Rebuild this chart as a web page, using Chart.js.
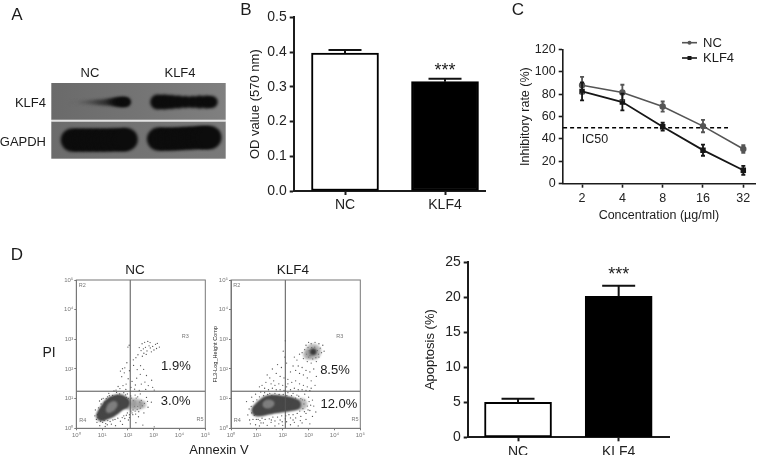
<!DOCTYPE html>
<html><head><meta charset="utf-8">
<script src="https://cdn.jsdelivr.net/npm/chart.js@4"></script>
<style>
html,body{margin:0;padding:0;background:#fff;width:765px;height:455px;overflow:hidden}
canvas{position:absolute}
.t{position:absolute;font-family:"Liberation Sans",Arial,sans-serif;color:#1c1c1c;white-space:nowrap;transform:translate(-50%,-50%);line-height:1;z-index:5;will-change:transform}
.r{transform:translate(-100%,-50%)}
</style></head><body>
<script>
// ---------- data ----------
const categories = ['NC','KLF4'];
const odValues = [0.397,0.315];
const odErrors = [0.009,0.008];
const apoptosisValues = [5.0,20.1];
const apoptosisErrors = [0.5,1.5];
const concentrations = ['2','4','8','16','32'];
const ncInhibition = [88,81.5,69,51.5,31];
const ncInhibitionErr = [7.5,7,4.5,5.5,3.5];
const klf4Inhibition = [82.5,73,51,30,12];
const klf4InhibitionErr = [8,7.5,3.5,5,4];
const ic50Level = 50;
const decadeLabels = ['10⁰','10¹','10²','10³','10⁴','10⁵'];
// flow cytometry: [log10 Annexin V, log10 PI]
const ncEvents = [[2.55,2.85],[2.65,2.9],[2.77,2.93],[2.82,2.78],[2.68,2.73],[2.6,2.68],[2.87,2.71],[2.96,2.76],[3.07,2.83],[3.14,2.86],[3.22,2.74],[3.01,2.64],[2.91,2.58],[2.74,2.61],[2.62,2.53],[2.51,2.62],[2.44,2.72],[3.11,2.69],[2.86,2.89],[2.39,2.48],[2.56,2.43],[2.71,2.49],[2.31,2.38],[2.21,2.31],[2.05,2.8],[2.0,2.74],[1.96,2.21],[1.88,2.04],[1.79,2.01],[1.71,1.93],[1.76,1.74],[1.86,1.87],[2.06,1.94],[2.22,2.12],[2.36,1.98],[2.49,2.11],[2.61,1.99],[2.72,1.78],[2.48,1.82],[2.34,1.69],[2.16,1.58],[2.01,1.67],[1.93,1.49],[1.81,1.44],[1.62,1.41],[1.54,1.29],[1.69,1.34],[2.12,1.38],[2.29,1.46],[2.52,1.49],[2.66,1.56],[2.79,1.44],[2.92,1.62],[2.96,1.38],[2.69,1.31],[2.44,1.28],[2.26,1.32],[1.46,1.26],[1.92,1.31],[3.02,1.29],[0.8,0.2],[0.91,0.09],[1.12,0.06],[0.84,0.36],[2.41,0.39],[2.62,0.52],[2.78,0.71],[2.91,0.88],[2.72,1.04],[2.48,1.16],[2.31,0.19],[2.58,0.11],[3.02,0.05],[1.52,0.09],[1.79,0.13],[2.02,0.28],[2.19,0.46],[0.74,0.62],[0.96,0.82],[1.04,1.01],[1.26,1.18],[1.41,1.11],[1.68,1.16],[1.91,1.13],[2.11,1.09],[2.32,1.02],[2.46,0.88],[2.56,0.76],[2.36,0.64],[2.21,0.93],[2.12,0.58],[1.94,0.44],[1.71,0.24],[1.36,0.14],[1.14,0.16],[0.89,0.51],[0.86,0.69],[1.11,0.88],[1.21,1.06],[1.56,1.21],[2.02,1.01],[2.26,0.74],[2.42,0.56],[2.64,0.84],[2.76,0.91],[1.31,0.23],[1.61,0.34],
 [0.78,0.3],[0.82,0.46],[0.72,0.42],[0.94,0.24],[1.02,0.2],[1.08,0.27],[1.22,0.26],[1.2,0.12],[1.42,0.28],[1.5,0.3],[1.78,0.36],[1.88,0.33],[1.98,0.52],[2.06,0.46],[2.16,0.52],[2.28,0.58],[2.3,0.48],[2.38,0.74],[2.48,0.68],[2.52,0.94],[2.38,1.06],[2.28,1.12],[2.14,1.02],[1.98,1.16],[1.84,1.2],[1.74,1.06],[1.6,1.08],[1.48,1.06],[1.34,1.02],[1.14,0.78],[1.02,0.72],[0.92,0.62],[0.9,0.92],[0.98,0.98],[1.16,1.0],[1.28,1.1],[1.94,1.04],[2.2,0.62],[2.06,0.36],[1.84,0.42]];
const klf4Events = [[3.0,2.9],[2.9,2.8],[3.1,2.85],[3.25,2.9],[3.4,2.85],[3.45,2.7],[3.5,2.55],[3.4,2.4],[3.3,2.25],[3.1,2.2],[2.95,2.25],[2.8,2.35],[2.75,2.55],[2.85,2.65],[3.05,2.45],[3.6,2.6],[3.55,2.8],[2.65,2.5],[2.55,2.3],[2.45,2.4],[2.4,2.1],[2.6,2.1],[2.75,2.05],[2.9,1.95],[3.05,1.9],[3.2,2.0],[3.3,1.75],[3.1,1.6],[2.95,1.7],[2.8,1.8],[2.65,1.85],[2.5,1.95],[2.3,1.9],[2.15,2.2],[2.08,2.4],[2.1,2.95],[2.02,2.6],[1.95,2.05],[1.8,2.15],[1.75,1.85],[1.9,1.75],[2.05,1.7],[2.2,1.65],[2.35,1.55],[2.5,1.6],[2.65,1.5],[2.8,1.45],[2.95,1.4],[3.1,1.35],[3.25,1.45],[1.6,2.0],[1.5,1.7],[1.4,1.8],[1.65,1.6],[1.85,1.5],[2.0,1.45],[2.15,1.4],[2.3,1.3],[2.45,1.35],[2.6,1.3],[1.2,1.45],[1.1,1.4],[1.3,1.35],[1.45,1.3],[1.6,1.35],[1.75,1.3],[1.9,1.3],[2.05,1.28],[2.2,1.5],[1.55,1.5],[1.7,1.45],[1.35,1.55],[2.75,1.3],[2.9,1.28],[3.05,1.27],[0.75,0.15],[0.85,0.3],[0.95,0.12],[1.1,0.08],[1.25,0.18],[1.4,0.1],[1.55,0.2],[1.7,0.08],[1.85,0.15],[2.0,0.1],[2.15,0.22],[2.3,0.12],[2.45,0.2],[2.6,0.08],[2.75,0.18],[2.9,0.3],[3.05,0.15],[0.65,0.45],[0.7,0.65],[0.6,0.9],[0.8,1.05],[0.95,1.15],[1.05,0.3],[2.9,0.5],[3.05,0.6],[3.2,0.75],[3.15,0.95],[3.0,1.05],[2.85,1.15],[2.95,0.75],[2.7,0.4],[2.5,0.35],[2.3,0.35],[2.1,0.32],[1.9,0.28],[1.7,0.25],[3.15,0.4],[3.28,0.55],[2.55,1.12],[2.7,1.0],[2.4,1.18],[2.2,1.2],[2.85,0.95],[1.15,1.22],[1.3,1.2],[1.5,1.18],
 [0.72,0.28],[0.8,0.52],[0.78,0.74],[0.86,0.9],[0.9,0.44],[0.98,0.3],[1.12,0.26],[1.2,0.34],[1.32,0.3],[1.48,0.32],[1.62,0.38],[1.8,0.38],[1.96,0.42],[2.12,0.42],[2.24,0.46],[2.4,0.46],[2.56,0.5],[2.66,0.58],[2.78,0.66],[2.82,0.82],[2.76,0.96],[2.62,1.08],[2.5,1.02],[2.34,1.1],[2.16,1.1],[2.02,1.14],[1.86,1.14],[1.7,1.18],[1.58,1.1],[1.42,1.14],[1.26,1.1],[1.1,1.06],[1.0,0.96],[0.96,0.46],[3.02,0.9],[3.08,0.78],[2.98,0.62],[2.84,0.56],[2.68,0.26],[2.4,0.28],[1.98,0.22],[1.56,0.28],[1.16,0.18],[3.0,2.4],[3.02,2.62],[3.12,2.72],[3.24,2.74],[3.34,2.62],[3.38,2.5],[3.28,2.38],[3.16,2.34],[2.98,2.72],[2.92,2.5]];
// dense population centres: x, y, radius
const ncDense = [{x:0.98,y:0.42,r:5.5},{x:1.1,y:0.52,r:7},{x:1.25,y:0.62,r:8.5},{x:1.38,y:0.73,r:9.5},{x:1.52,y:0.82,r:9},{x:1.68,y:0.88,r:8},{x:1.85,y:0.85,r:6}];
const ncHaze = [{x:2.1,y:0.82,r:6.5},{x:2.35,y:0.8,r:6},{x:2.55,y:0.8,r:4}];
const ncCore = [{x:1.26,y:0.62,r:3},{x:1.36,y:0.72,r:4.5},{x:1.46,y:0.8,r:3.5}];
const klf4Dense = [{x:1.02,y:0.6,r:6},{x:1.2,y:0.68,r:8},{x:1.42,y:0.78,r:9.5},{x:1.62,y:0.82,r:9.5},{x:1.85,y:0.82,r:9},{x:2.1,y:0.82,r:8},{x:2.32,y:0.82,r:7},{x:2.5,y:0.8,r:5.5}];
const klf4Haze = [{x:2.72,y:0.82,r:6},{x:3.18,y:2.58,r:8},{x:2.98,y:2.48,r:5}];
const klf4Core = [{x:1.34,y:0.8,r:3},{x:1.44,y:0.82,r:4.5},{x:1.56,y:0.84,r:3}];
const klf4SubCluster = [{x:3.18,y:2.58,r:3.5}];
// blot bands, in percent of panel width / height of the whole blot: x, y, radius
const klf4BandNC = [{x:11.7,y:74.5,r:1.4},{x:14,y:74.5,r:1.2},{x:16.5,y:74.5,r:1.6},{x:18.4,y:74.5,r:1.9},{x:20.5,y:74.5,r:2.1},{x:22.5,y:74.5,r:2.3},{x:24.5,y:74.5,r:2.5},{x:26.5,y:74.5,r:2.7},{x:28.5,y:74.5,r:2.9},{x:30.5,y:74.5,r:3.1},{x:32.5,y:74.8,r:3.3},{x:34.5,y:75,r:3.7},{x:36.5,y:75,r:4.2},{x:38.5,y:75,r:4.7},{x:40.4,y:75,r:5},{x:42,y:75,r:4.8},{x:43.2,y:75,r:4.3}];
const klf4BandKLF4 = [{x:61,y:74.9,r:7.5},{x:65,y:74.9,r:7.5},{x:69,y:74.9,r:7},{x:73,y:74.9,r:6.5},{x:77,y:74.9,r:6},{x:81,y:74.9,r:6},{x:85,y:74.9,r:6.5},{x:89,y:74.9,r:6.5},{x:92,y:74.9,r:6}];
const gapdhBandNC = [{x:12,y:24.7,r:11.5},{x:16,y:24.7,r:11.5},{x:20,y:24.7,r:11.5},{x:24,y:24.7,r:11.5},{x:28,y:24.7,r:11.5},{x:32,y:24.7,r:11.5},{x:36,y:25,r:11.5},{x:40,y:25,r:11.5},{x:43,y:25.5,r:11.5}];
const gapdhBandKLF4 = [{x:61.4,y:26,r:11.5},{x:65,y:26,r:11.5},{x:69,y:26,r:11.5},{x:73,y:26.5,r:11.5},{x:77,y:27,r:11.5},{x:81,y:27.5,r:11.5},{x:85,y:28,r:11.5},{x:88,y:28,r:11.5},{x:91,y:28,r:11.5}];

// ---------- helpers ----------
const FONT='"Liberation Sans", Arial, sans-serif';
Chart.defaults.font.family=FONT;
Chart.defaults.animation=false;
const INK='#1c1c1c';
function box(b){
  const c=document.createElement('canvas');
  c.width=b.r-b.l;c.height=b.b-b.t;
  c.style.left=b.l+'px';c.style.top=b.t+'px';
  c.style.width=(b.r-b.l)+'px';c.style.height=(b.b-b.t)+'px';
  document.body.appendChild(c);return c;
}
function label(text,x,y,size,cls){
  const d=document.createElement('div');d.className='t '+(cls||'');
  d.textContent=text;d.style.left=x+'px';d.style.top=y+'px';d.style.fontSize=size+'px';
  document.body.appendChild(d);
}
function layoutFor(b,p){return {autoPadding:false,padding:{top:p.t-b.t,right:b.r-p.r,left:0,bottom:0}};}
function errorPlugin(both,cap,lw){
  return {id:'errorBars',afterDatasetsDraw(chart){
    const ctx=chart.ctx;
    chart.data.datasets.forEach(ds=>{
      if(!ds.errs)return;
      const sx=chart.scales.x,sy=chart.scales.y;
      ctx.save();ctx.strokeStyle=ds.errColor||'#111';ctx.lineWidth=lw;
      ds.data.forEach((pt,k)=>{
        const x=sx.getPixelForValue(pt.x),hi=sy.getPixelForValue(pt.y+ds.errs[k]),lo=sy.getPixelForValue(both?pt.y-ds.errs[k]:pt.y);
        ctx.beginPath();ctx.moveTo(x,lo);ctx.lineTo(x,hi);
        ctx.moveTo(x-cap,hi);ctx.lineTo(x+cap,hi);
        if(both){ctx.moveTo(x-cap,lo);ctx.lineTo(x+cap,lo);}
        ctx.stroke();
      });
      ctx.restore();
    });
  }};
}
function notesPlugin(items){
  return {id:'notes',afterDraw(chart){
    const ctx=chart.ctx;
    items.forEach(n=>{
      ctx.save();ctx.font=n.size+'px '+FONT;ctx.fillStyle=n.color||INK;
      ctx.textAlign='center';ctx.textBaseline='middle';
      ctx.fillText(n.text,chart.scales.x.getPixelForValue(n.x),chart.scales.y.getPixelForValue(n.y));
      ctx.restore();
    });
  }};
}
// soft focus per dataset: a dataset's `soft` value is its blur in pixels
const softPlugin={id:'softFocus',
  beforeDatasetDraw(chart,args){const s=chart.data.datasets[args.index].soft;if(s){chart.ctx.save();chart.ctx.filter='blur('+s+'px)';}},
  afterDatasetDraw(chart,args){if(chart.data.datasets[args.index].soft)chart.ctx.restore();}};
function axis(opts){
  const o=Object.assign({color:INK,w:2,tick:4,pad:2,size:13,tc:'#222'},opts);
  const s={type:'linear',min:o.min,max:o.max,offset:false,
    border:{display:true,color:o.color,width:o.w},
    grid:{display:true,offset:false,drawOnChartArea:false,drawTicks:true,tickLength:o.tick,tickColor:o.color,tickWidth:o.tw||o.w},
    ticks:{color:o.tc,font:{size:o.size},padding:o.pad,autoSkip:false,maxRotation:0,minRotation:0,
      callback:o.cb||(v=>v)},
    afterFit:o.fit};
  if(o.ticks)s.afterBuildTicks=a=>{a.ticks=o.ticks.map(v=>({value:v}));};
  if(o.step)s.ticks.stepSize=o.step;
  if(o.title)s.title={display:true,text:o.title,color:INK,font:{size:o.titleSize||13},padding:0};
  return s;
}
function barPanel(b,p,xMin,xMax,yMax,step,vals,errs,yTitle,dec,notes,thick,cap,tsize){
  new Chart(box(b),{type:'bar',
    data:{datasets:[{label:yTitle,data:vals.map((v,i)=>({x:i,y:v})),errs:errs,
      backgroundColor:['#ffffff','#000000'],borderColor:'#000000',borderWidth:2,borderSkipped:false,barThickness:thick}]},
    plugins:[errorPlugin(false,cap,2),notesPlugin(notes)],
    options:{responsive:false,devicePixelRatio:1,layout:layoutFor(b,p),
      plugins:{legend:{display:false},tooltip:{enabled:false}},
      scales:{
        x:axis({min:xMin,max:xMax,ticks:[0,1],cb:v=>categories[v],size:tsize,fit:s=>{s.height=b.b-p.b;}}),
        y:axis({min:0,max:yMax,step:step,cb:v=>dec?v.toFixed(dec):v,size:tsize,pad:3,title:yTitle,titleSize:13,fit:s=>{s.width=p.l-b.l;}})
      }}});
}

// ---------- A: blot ----------
(function(){
  const b={l:50,t:80,r:228,b:161},p={l:51.3,t:83,r:225.7,b:158.7};
  const bg={id:'blotBackground',beforeDatasetsDraw(chart){
    const {ctx,chartArea:a}=chart;const mid=chart.scales.y.getPixelForValue(50);
    ctx.save();
    let g=ctx.createLinearGradient(a.left,0,a.right,0);g.addColorStop(0,'#6a6a6a');g.addColorStop(.5,'#747474');g.addColorStop(1,'#808080');
    ctx.fillStyle=g;ctx.fillRect(a.left,a.top,a.right-a.left,mid-1-a.top);
    g=ctx.createLinearGradient(a.left,0,a.right,0);g.addColorStop(0,'#6c6c6c');g.addColorStop(1,'#7a7a7a');
    ctx.fillStyle=g;ctx.fillRect(a.left,mid+0.6,a.right-a.left,a.bottom-mid-0.6);
    ctx.fillStyle='#e2e2e2';ctx.fillRect(a.left,mid-1,a.right-a.left,1.6);
    ctx.restore();
  }};
  new Chart(box(b),{type:'bubble',
    data:{datasets:[
      {label:'KLF4 NC',soft:1.4,data:klf4BandNC,backgroundColor:['#66666680','#66666650','#55555570','#4a4a4a80','#44444490','#3c3c3ca0','#363636a8','#303030b0','#2a2a2ab8','#262626c0','#202020d0','#181818e0','#101010f0','#0c0c0c','#0c0c0c','#0c0c0c','#0c0c0c'],borderWidth:0},
      {label:'KLF4 KLF4',soft:1.4,data:klf4BandKLF4,backgroundColor:'#0c0c0c',borderWidth:0},
      {label:'GAPDH NC',soft:1.4,data:gapdhBandNC,backgroundColor:'#0c0c0c',borderWidth:0},
      {label:'GAPDH KLF4',soft:1.4,data:gapdhBandKLF4,backgroundColor:'#0c0c0c',borderWidth:0}]},
    plugins:[bg,softPlugin],
    options:{responsive:false,devicePixelRatio:1,
      layout:{autoPadding:false,padding:{left:p.l-b.l,top:p.t-b.t,right:b.r-p.r,bottom:b.b-p.b}},
      plugins:{legend:{display:false},tooltip:{enabled:false}},
      scales:{x:{type:'linear',min:0,max:100,display:false},y:{type:'linear',min:0,max:100,display:false}}}});
})();

// ---------- B ----------
barPanel({l:248,t:6,r:490,b:215},{l:293.7,t:16,r:485,b:191},-0.513,1.4,0.5,0.1,odValues,odErrors,'OD value (570 nm)',1,
  [{text:'***',x:1,y:0.345,size:18}],67,16.5,14);

// ---------- C ----------
(function(){
  const b={l:518,t:30,r:765,b:223},p={l:562.7,t:49.5,r:755,b:183.7};
  const NCC='#555555',KC='#161616';
  const ptsOf=a=>a.map((v,i)=>({x:i,y:v}));
  const legend={id:'panelLegend',afterDraw(chart){
    const ctx=chart.ctx,ox=b.l,oy=b.t;
    [[categories[0],NCC,'c',42.7],[categories[1],KC,'s',58]].forEach(r=>{
      ctx.save();ctx.strokeStyle=r[1];ctx.fillStyle=r[1];ctx.lineWidth=1.6;
      ctx.beginPath();ctx.moveTo(682-ox,r[3]-oy);ctx.lineTo(697-ox,r[3]-oy);ctx.stroke();
      if(r[2]==='c'){ctx.beginPath();ctx.arc(689.5-ox,r[3]-oy,2,0,7);ctx.fill();}
      else ctx.fillRect(687.5-ox,r[3]-2-oy,4,4);
      ctx.fillStyle=INK;ctx.font='13px '+FONT;ctx.textBaseline='middle';ctx.fillText(r[0],703-ox,r[3]-oy+.5);
      ctx.restore();
    });
  }};
  new Chart(box(b),{type:'line',
    data:{datasets:[
      {label:categories[0],data:ptsOf(ncInhibition),errs:ncInhibitionErr,errColor:NCC,borderColor:NCC,backgroundColor:NCC,borderWidth:1.6,pointRadius:2.4,pointStyle:'circle',tension:0},
      {label:categories[1],data:ptsOf(klf4Inhibition),errs:klf4InhibitionErr,errColor:KC,borderColor:KC,backgroundColor:KC,borderWidth:1.8,pointRadius:2.6,pointStyle:'rect',tension:0},
      {label:'IC50',data:[{x:-0.47,y:ic50Level},{x:3.62,y:ic50Level}],borderColor:'#000',borderWidth:1.5,borderDash:[4,3],pointRadius:0}
    ]},
    plugins:[errorPlugin(true,2,1.8),notesPlugin([{text:'IC50',x:0.32,y:39.7,size:12.5}]),legend],
    options:{responsive:false,devicePixelRatio:1,layout:layoutFor(b,p),
      plugins:{legend:{display:false},tooltip:{enabled:false}},
      scales:{
        x:axis({min:-0.48,max:4.29,ticks:[0,1,2,3,4],cb:v=>concentrations[v],size:12.5,w:1.6,pad:3,title:'Concentration (µg/ml)',titleSize:12.5,fit:s=>{s.height=b.b-p.b;}}),
        y:axis({min:0,max:120,step:20,size:12.5,w:1.6,pad:3,title:'Inhibitory rate (%)',titleSize:12.5,fit:s=>{s.width=p.l-b.l;}})
      }}});
})();

// ---------- D: flow plots ----------
function flowPanel(b,p,events,dense,haze,core,spot,gx,gy,notes,title){
  const frame={id:'plotFrame',afterDatasetsDraw(chart){
    const {ctx,chartArea:a}=chart;ctx.save();ctx.strokeStyle='#777';ctx.lineWidth=1;
    ctx.strokeRect(a.left,a.top,a.right-a.left,a.bottom-a.top);ctx.restore();
  }};
  const tick=s=>decadeLabels[s];
  new Chart(box(b),{type:'scatter',
    data:{datasets:[
      {label:'gate V',type:'line',data:[{x:gx,y:0},{x:gx,y:5}],borderColor:'#555',borderWidth:1,pointRadius:0,order:0},
      {label:'gate H',type:'line',data:[{x:0,y:gy},{x:5,y:gy}],borderColor:'#555',borderWidth:1,pointRadius:0,order:0},
      {label:'core',type:'bubble',soft:1.2,data:core,backgroundColor:'#7e7e7e',borderWidth:0,order:1},
      {label:'spot',type:'bubble',soft:0.9,data:spot,backgroundColor:'#3a3a3a',borderWidth:0,order:1},
      {label:'dense',type:'bubble',soft:1,data:dense,backgroundColor:'#464646',borderWidth:0,order:2},
      {label:'haze',type:'bubble',soft:1,data:haze,backgroundColor:'#8a8a8a99',borderWidth:0,order:3},
      {label:'events',soft:0.25,data:events.map(e=>({x:e[0],y:e[1]})),backgroundColor:'#555',pointRadius:0.65,borderWidth:0,order:4}
    ]},
    plugins:[softPlugin,frame,notesPlugin(notes)],
    options:{responsive:false,devicePixelRatio:1,layout:layoutFor(b,p),
      plugins:{legend:{display:false},tooltip:{enabled:false}},
      scales:{
        x:axis({min:0,max:5,ticks:[0,1,2,3,4,5],cb:tick,size:6,tc:'#777',color:'#777',w:1,tick:2,pad:1,fit:s=>{s.height=b.b-p.b;}}),
        y:axis({min:0,max:5,ticks:[0,1,2,3,4,5],cb:tick,size:6,tc:'#777',color:'#777',w:1,tick:2,pad:1,title:title,titleSize:5.6,fit:s=>{s.width=p.l-b.l;}})
      }}});
}
flowPanel({l:60,t:274,r:211,b:442},{l:76.3,t:280,r:205.3,b:428.3},ncEvents,ncDense,ncHaze,ncCore,[],2.09,1.25,[
  {text:'R2',x:0.23,y:4.83,size:5.5,color:'#777'},{text:'R3',x:4.22,y:3.09,size:5.5,color:'#777'},
  {text:'R4',x:0.25,y:0.25,size:5.5,color:'#777'},{text:'R5',x:4.8,y:0.3,size:5.5,color:'#777'},
  {text:'1.9%',x:3.86,y:2.07,size:13},{text:'3.0%',x:3.85,y:0.92,size:13}],'');
flowPanel({l:212,t:274,r:367,b:442},{l:231,t:280,r:360.3,b:428.3},klf4Events,klf4Dense,klf4Haze,klf4Core,klf4SubCluster,2.1,1.25,[
  {text:'R2',x:0.22,y:4.83,size:5.5,color:'#777'},{text:'R3',x:4.21,y:3.09,size:5.5,color:'#777'},
  {text:'R4',x:0.24,y:0.25,size:5.5,color:'#777'},{text:'R5',x:4.8,y:0.3,size:5.5,color:'#777'},
  {text:'8.5%',x:4.02,y:1.94,size:13},{text:'12.0%',x:4.17,y:0.82,size:13}],'FL3-Log_Height Comp');

// ---------- D: apoptosis ----------
barPanel({l:423,t:250,r:680,b:455},{l:467.7,t:262,r:669,b:437.3},-0.5,1.5,25,5,apoptosisValues,apoptosisErrors,'Apoptosis (%)',0,
  [{text:'***',x:1,y:23.1,size:18}],67,16.5,14);

// ---------- text ----------
label('A',17,14,17);label('B',246,9,17);label('C',518,9,17);label('D',17,254,17);
label(categories[0],90,72,13);label(categories[1],180,72,13);
label('KLF4',46,102,13,'r');label('GAPDH',46,141,13,'r');
label(categories[0],134.7,270,13.5);label(categories[1],293,270,13.5);
label('PI',49,352,14);label('Annexin V',218.5,449,13);
</script>
</body></html>
